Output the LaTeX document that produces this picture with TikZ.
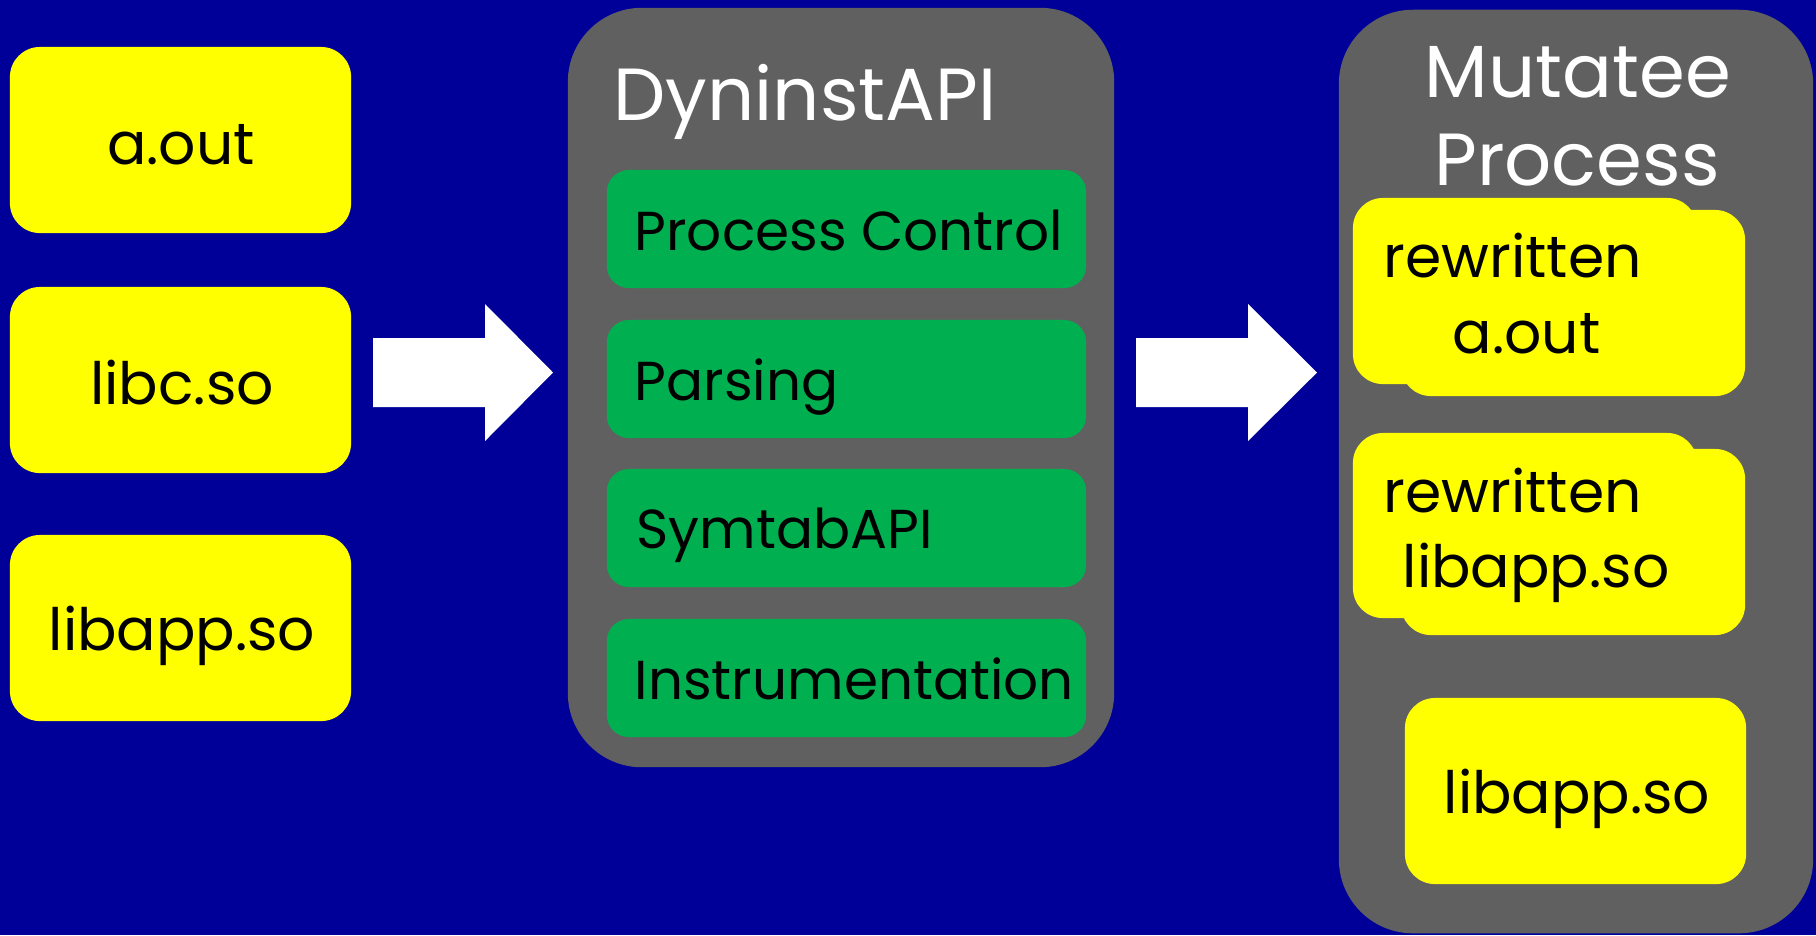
\documentclass[tikz,border=0pt]{standalone}
\usepackage{fontspec}
\setmainfont{Poppins}
\definecolor{slidebg}{RGB}{0,0,153}
\definecolor{panelgray}{RGB}{96,96,96}
\definecolor{modgreen}{RGB}{0,176,80}
\definecolor{fileyellow}{RGB}{255,255,0}
\begin{document}
\begin{tikzpicture}[x=0.01cm,y=-0.01cm,
  filebox/.style={fill=fileyellow, draw=none, rounded corners=0.3cm, inner sep=0pt,
                  minimum width=3.41cm, minimum height=1.86cm},
  modbox/.style={fill=modgreen, draw=none, rounded corners=0.22cm, inner sep=0pt,
                 minimum width=4.79cm, minimum height=1.18cm},
  panel/.style={fill=panelgray, draw=none, rounded corners=0.74cm, inner sep=0pt},
  filetext/.style={inner sep=0pt, text=black, font=\fontsize{16.6}{20}\selectfont},
  modtext/.style={inner sep=0pt, anchor=base west, text=black, font=\fontsize{15.6}{19}\selectfont},
  paneltitle/.style={inner sep=0pt, text=white, font=\fontsize{21}{25}\selectfont},
  bigarrow/.style={fill=white, draw=none}]

% background and page size
\fill[slidebg] (0,0) rectangle (1816,935);
\useasboundingbox (0,0) rectangle (1816,935);

% input files
\node[filebox] (aout) at (180.5,140) {};
\node[filebox] (libc) at (180.5,380) {};
\node[filebox] (libapp) at (180.5,628) {};
\node[filetext, anchor=base] (aouttxt) at (181,164) {a.out};
\node[filetext, anchor=base] (libctxt) at (182,404) {libc.so};
\node[filetext, anchor=base] (libapptxt) at (182,650) {libapp.so};

% DyninstAPI panel
\node[panel, minimum width=5.46cm, minimum height=7.59cm] (dyninst) at (841,387.5) {};
\node[paneltitle, anchor=base west] (dyntitle) at (613,120) {DyninstAPI};
\node[modbox] (proc) at (846.5,229) {};
\node[modbox] (parse) at (846.5,379) {};
\node[modbox] (symtab) at (846.5,528) {};
\node[modbox] (instr) at (846.5,678) {};
\node[modtext] (proctxt) at (634,250) {Process Control};
\node[modtext] (parsetxt) at (634,400) {Parsing};
\node[modtext] (symtabtxt) at (636,548) {SymtabAPI};
\node[modtext] (instrtxt) at (634,699) {Instrumentation};

% Mutatee process panel
\node[panel, minimum width=4.74cm, minimum height=9.23cm] (mutatee) at (1576,471.5) {};
\node[paneltitle, anchor=base] (muttitle1) at (1578,97) {Mutatee};
\node[paneltitle, anchor=base] (muttitle2) at (1577,185) {Process};

% rewritten a.out (two overlapping sheets)
\node[filebox, minimum width=3.44cm] (rwaoutA) at (1525,291) {};
\node[filebox, minimum width=3.44cm] (rwaoutB) at (1573,303) {};
\node[filetext, anchor=base west] (rwaouttxt1) at (1383,277) {rewritten};
\node[filetext, anchor=base west] (rwaouttxt2) at (1452,353) {a.out};

% rewritten libapp.so (two overlapping sheets)
\node[filebox, minimum width=3.44cm, minimum height=1.85cm] (rwlibA) at (1525,525.5) {};
\node[filebox, minimum width=3.44cm] (rwlibB) at (1573,542) {};
\node[filetext, anchor=base west] (rwlibtxt1) at (1383,512) {rewritten};
\node[filetext, anchor=base west] (rwlibtxt2) at (1402,587) {libapp.so};

% untouched libapp.so
\node[filebox] (libappout) at (1575.5,791) {};
\node[filetext, anchor=base] (libappouttxt) at (1577,813) {libapp.so};

% flow arrows: input files -> DyninstAPI -> mutatee
\fill[bigarrow] (373,338) -- (485,338) -- (485,304) -- (553,372.5) -- (485,441) -- (485,407) -- (373,407) -- cycle;
\fill[bigarrow] (1136,338) -- (1248,338) -- (1248,304) -- (1317,372.5) -- (1248,441) -- (1248,407) -- (1136,407) -- cycle;

\end{tikzpicture}
\end{document}
